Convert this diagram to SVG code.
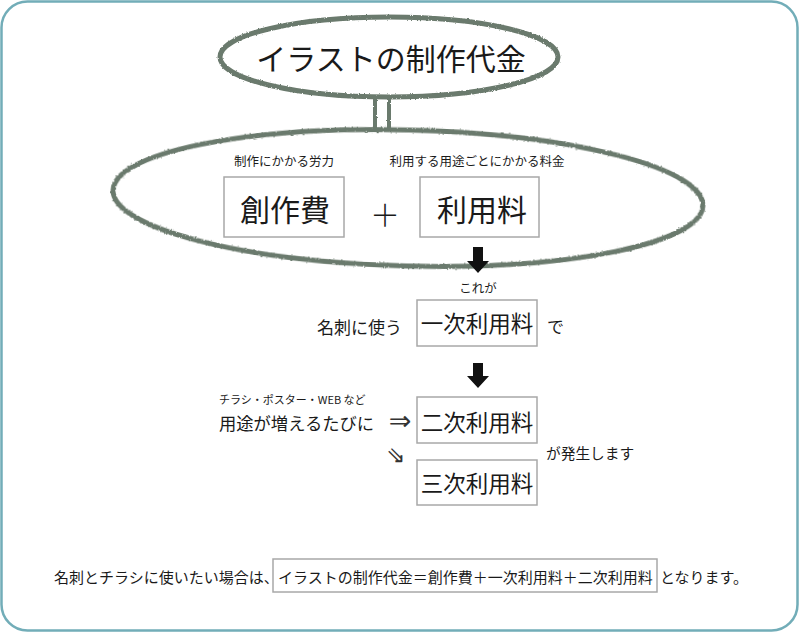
<svg xmlns="http://www.w3.org/2000/svg" width="800" height="633" viewBox="0 0 800 633">
<defs>
<style>
.t{font-family:"Noto Sans CJK JP","Noto Sans",sans-serif;fill:#1a1a1a}
.box{fill:#fff;stroke:#a8a8a8;stroke-width:1.5}
.ell{fill:none;stroke:#6b7a6d;stroke-width:5}
.arr{fill:#111}
.sym{font-family:"DejaVu Sans",sans-serif;fill:#333}
</style>
<filter id="rough" x="-5%" y="-10%" width="110%" height="120%">
<feTurbulence type="fractalNoise" baseFrequency="0.6" numOctaves="2" seed="3"/>
<feDisplacementMap in="SourceGraphic" scale="2.5" xChannelSelector="R" yChannelSelector="G"/>
</filter>
</defs>
<rect x="1.5" y="1.5" width="796" height="629" rx="26" fill="#fff" stroke="#72adb8" stroke-width="2.5"/>

<g id="title">
<ellipse class="ell" cx="389" cy="57" rx="169" ry="40" filter="url(#rough)"/>
<text class="t" x="391" y="70" font-size="30" text-anchor="middle">イラストの制作代金</text>
</g>

<g id="cost-group">
<ellipse class="ell" cx="408" cy="198" rx="295" ry="68" transform="rotate(1.5 408 198)" filter="url(#rough)"/>
<text class="t" x="284" y="166" font-size="12.5" text-anchor="middle">制作にかかる労力</text>
<text class="t" x="477" y="166" font-size="12.5" text-anchor="middle">利用する用途ごとにかかる料金</text>
<text class="t" x="385" y="226" font-size="30" text-anchor="middle" font-weight="300">＋</text>
</g>

<g id="sousakuhi">
<rect class="box" x="224" y="177" width="120" height="60"/>
<text class="t" x="285" y="221" font-size="30" text-anchor="middle">創作費</text>
</g>

<g id="riyouryou">
<rect class="box" x="420" y="177" width="119" height="60"/>
<text class="t" x="482" y="221" font-size="30" text-anchor="middle">利用料</text>
</g>

<g id="koreaga">
<text class="t" x="478" y="293" font-size="12.5" text-anchor="middle">これが</text>
</g>

<g id="ichiji">
<text class="t" x="402" y="334" font-size="17" text-anchor="end">名刺に使う</text>
<rect class="box" x="417" y="300" width="120" height="46"/>
<text class="t" x="477" y="332" font-size="22.5" text-anchor="middle">一次利用料</text>
<text class="t" x="547" y="333" font-size="17">で</text>
</g>

<g id="youto">
<text class="t" x="219" y="404" font-size="11">チラシ・ポスター・WEB など</text>
<text class="t" x="219" y="430" font-size="17.3">用途が増えるたびに</text>
</g>

<g id="niji">
<rect class="box" x="417" y="397" width="120" height="46"/>
<text class="t" x="477" y="431" font-size="22.5" text-anchor="middle">二次利用料</text>
</g>

<g id="hassei">
<text class="t" x="546" y="459" font-size="14.7">が発生します</text>
</g>

<g id="sanji">
<rect class="box" x="417" y="460" width="120" height="45"/>
<text class="t" x="477" y="492" font-size="22.5" text-anchor="middle">三次利用料</text>
</g>

<g id="summary">
<text class="t" x="54" y="583" font-size="15">名刺とチラシに使いたい場合は、</text>
<rect class="box" x="273" y="559" width="384" height="33" stroke-width="1.2"/>
<text class="t" x="278" y="583" font-size="15">イラストの制作代金＝創作費＋一次利用料＋二次利用料</text>
<text class="t" x="660" y="583" font-size="15">となります。</text>
</g>

<g id="connectors">
<g filter="url(#rough)" fill="#6b7a6d">
<rect x="373" y="96" width="4" height="35"/>
<rect x="387" y="96" width="4" height="35"/>
</g>
<polygon class="arr" points="473,247 483,247 483,261 489,261 478,273 467,261 473,261"/>
<polygon class="arr" points="473,363 483,363 483,376 489,376 478,388 467,376 473,376"/>
<text class="sym" x="400" y="430" font-size="27" text-anchor="middle">⇒</text>
<text class="sym" x="396" y="463" font-size="23" text-anchor="middle">⇘</text>
</g>
</svg>
